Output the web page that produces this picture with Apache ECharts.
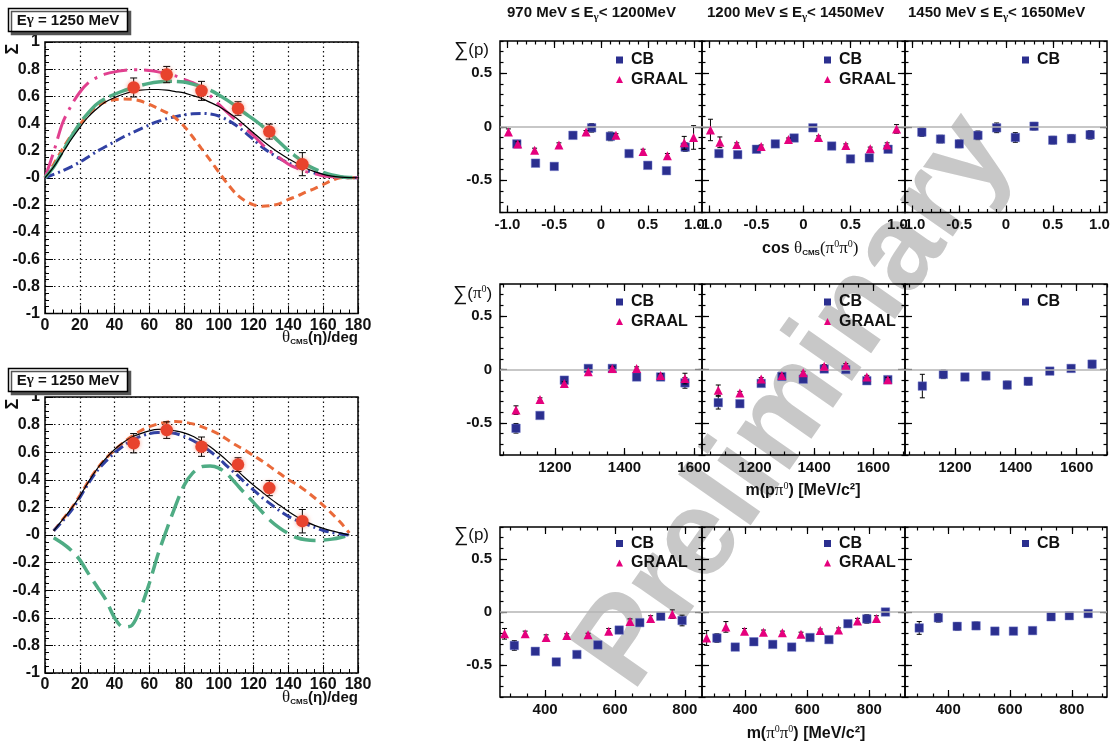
<!DOCTYPE html>
<html>
<head>
<meta charset="utf-8">
<script src="https://cdn.jsdelivr.net/npm/echarts@6/dist/echarts.min.js"></script>
<style>
  html, body { margin: 0; padding: 0; background: #fff; }
  #chart { width: 1112px; height: 748px; }
</style>
</head>
<body>
<div id="chart"></div>
<script>
// ---------- η photoproduction, Eγ = 1250 MeV: measured Σ(θ) ----------
const etaTheta    = [51, 70, 90, 111, 129, 148];
const etaSigma    = [0.665, 0.76, 0.64, 0.51, 0.34, 0.10];
const etaSigmaErr = [0.07, 0.06, 0.07, 0.05, 0.055, 0.085];

// model curves, sampled in θ (deg)
const thetaFull  = [0,5,10,15,20,25,30,35,40,45,50,55,60,65,70,75,80,85,90,95,100,105,110,115,120,125,130,135,140,145,150,155,160,165,170,175,180];
const thetaInner = [5,10,15,20,25,30,35,40,45,50,55,60,65,70,75,80,85,90,95,100,105,110,115,120,125,130,135,140,145,150,155,160,165,170,175];

const upperSolid    = [0,0.08,0.18,0.28,0.37,0.45,0.51,0.56,0.59,0.615,0.635,0.645,0.65,0.65,0.645,0.635,0.625,0.605,0.585,0.555,0.525,0.485,0.44,0.385,0.33,0.275,0.225,0.18,0.14,0.105,0.07,0.045,0.025,0.012,0.005,0.001,0];
const upperLongDash = [0,0.08,0.19,0.30,0.40,0.48,0.545,0.585,0.615,0.64,0.66,0.68,0.695,0.705,0.71,0.71,0.705,0.69,0.67,0.645,0.61,0.57,0.525,0.475,0.43,0.38,0.32,0.26,0.20,0.15,0.10,0.065,0.04,0.02,0.008,0.002,0];
const upperShortDash= [0,0.10,0.21,0.31,0.39,0.47,0.53,0.56,0.575,0.58,0.578,0.565,0.54,0.51,0.48,0.44,0.38,0.30,0.215,0.13,0.04,-0.045,-0.12,-0.17,-0.20,-0.21,-0.205,-0.19,-0.16,-0.135,-0.105,-0.08,-0.05,-0.02,0.0,0,0];
const upperDashDot  = [0,0.025,0.05,0.08,0.115,0.155,0.195,0.23,0.265,0.30,0.33,0.36,0.39,0.415,0.435,0.45,0.463,0.472,0.474,0.47,0.455,0.425,0.385,0.335,0.28,0.225,0.18,0.14,0.11,0.08,0.055,0.035,0.02,0.01,0.004,0.001,0];
const upperDashDots = [0,0.19,0.40,0.53,0.63,0.70,0.74,0.765,0.78,0.79,0.795,0.795,0.79,0.78,0.765,0.75,0.725,0.70,0.665,0.605,0.54,0.48,0.42,0.365,0.31,0.245,0.19,0.145,0.10,0.07,0.045,0.03,0.015,0.008,0.003,0,0];

const lowerSolid    = [0.03,0.11,0.19,0.28,0.385,0.48,0.555,0.62,0.67,0.71,0.735,0.755,0.765,0.765,0.755,0.74,0.715,0.68,0.64,0.59,0.535,0.475,0.415,0.36,0.31,0.26,0.215,0.17,0.13,0.097,0.07,0.048,0.03,0.015,0.0];
const lowerDashDot  = [0.03,0.10,0.175,0.27,0.375,0.465,0.535,0.595,0.645,0.685,0.715,0.735,0.742,0.742,0.735,0.715,0.685,0.65,0.605,0.555,0.495,0.44,0.38,0.325,0.27,0.222,0.175,0.135,0.105,0.08,0.055,0.033,0.018,0.008,0.0];
const lowerShortDash= [0.03,0.11,0.19,0.285,0.39,0.48,0.555,0.615,0.67,0.715,0.755,0.785,0.805,0.818,0.823,0.818,0.805,0.785,0.76,0.73,0.69,0.65,0.615,0.575,0.535,0.49,0.445,0.40,0.365,0.32,0.27,0.215,0.155,0.09,0.015];
const lowerLongDash = [-0.02,-0.06,-0.11,-0.18,-0.28,-0.375,-0.47,-0.6,-0.667,-0.655,-0.53,-0.35,-0.14,0.04,0.21,0.36,0.45,0.495,0.50,0.485,0.44,0.37,0.30,0.235,0.165,0.10,0.05,0.01,-0.02,-0.035,-0.04,-0.037,-0.03,-0.018,0.0];

// ---------- 2π0 photoproduction: beam asymmetry Σ ----------
// tick values
const cosMajor   = [-1, -0.5, 0, 0.5, 1];
const cosMinor   = [-1,-0.9,-0.8,-0.7,-0.6,-0.5,-0.4,-0.3,-0.2,-0.1,0,0.1,0.2,0.3,0.4,0.5,0.6,0.7,0.8,0.9,1];
const sigmaMajor = [-0.5, 0, 0.5];
const sigmaMinor = [-0.8,-0.7,-0.6,-0.5,-0.4,-0.3,-0.2,-0.1,0,0.1,0.2,0.3,0.4,0.5,0.6,0.7,0.8];
const mpMajor    = [1200, 1400, 1600];
const mpMinorLow = [1050,1100,1150,1200,1250,1300,1350,1400,1450,1500,1550,1600];
const mpMinorHigh= [1050,1100,1150,1200,1250,1300,1350,1400,1450,1500,1550,1600,1650,1700];
const mppMajor    = [400, 600, 800];
const mppMinorLow = [300,350,400,450,500,550,600,650,700,750,800];
const mppMinorHigh= [300,350,400,450,500,550,600,650,700,750,800,850,900];

// Σ(p) vs cos θ(π0π0)
const cosCB    = [-0.9,-0.7,-0.5,-0.3,-0.1,0.1,0.3,0.5,0.7,0.9];
const cosGraal = [-0.99,-0.89,-0.71,-0.45,-0.16,0.16,0.45,0.71,0.89,0.99];
const cosLowCB      = [-0.16,-0.34,-0.37,-0.08,-0.01,-0.09,-0.25,-0.36,-0.41,-0.19];
const cosLowCBErr   = [0.02,0.02,0.02,0.03,0.04,0.04,0.02,0.02,0.02,0.04];
const cosLowGraal   = [-0.05,-0.16,-0.22,-0.17,-0.05,-0.08,-0.23,-0.27,-0.15,-0.10];
const cosLowGraalErr= [0.03,0.02,0.02,0.02,0.015,0.015,0.02,0.02,0.06,0.11];
const cosMidCB      = [-0.25,-0.26,-0.21,-0.16,-0.105,-0.01,-0.18,-0.30,-0.29,-0.21];
const cosMidCBErr   = [0.03,0.025,0.02,0.025,0.03,0.03,0.02,0.02,0.02,0.03];
const cosMidGraal   = [-0.03,-0.145,-0.165,-0.185,-0.12,-0.10,-0.175,-0.205,-0.17,-0.02];
const cosMidGraalErr= [0.10,0.05,0.015,0.015,0.015,0.015,0.015,0.015,0.02,0.04];
const cosHighCB     = [-0.05,-0.115,-0.16,-0.08,-0.01,-0.10,0.005,-0.125,-0.11,-0.075];
const cosHighCBErr  = [0.04,0.035,0.035,0.04,0.045,0.045,0.035,0.035,0.035,0.04];

// Σ(π0) vs m(pπ0)
const mpLowX        = [1088,1157,1227,1296,1365,1435,1504,1574];
const mpLowCB       = [-0.55,-0.43,-0.10,0.01,0.01,-0.07,-0.07,-0.125];
const mpLowCBErr    = [0.045,0.02,0.02,0.02,0.02,0.02,0.02,0.05];
const mpLowGraal    = [-0.38,-0.28,-0.13,-0.02,0.01,0.01,-0.055,-0.085];
const mpLowGraalErr = [0.04,0.015,0.015,0.015,0.015,0.015,0.015,0.05];
const mpMidX        = [1076,1149,1221,1291,1363,1434,1507,1578,1649];
const mpMidCB       = [-0.31,-0.32,-0.13,-0.065,-0.09,0.005,0.0,-0.105,-0.095];
const mpMidCBErr    = [0.06,0.025,0.02,0.02,0.02,0.02,0.02,0.02,0.025];
const mpMidGraal    = [-0.195,-0.22,-0.09,-0.055,-0.03,0.03,0.04,-0.07,-0.095];
const mpMidGraalErr = [0.05,0.015,0.015,0.015,0.015,0.015,0.015,0.015,0.02];
const mpHighX       = [1093,1162,1233,1302,1372,1441,1512,1582,1651];
const mpHighCB      = [-0.155,-0.045,-0.07,-0.06,-0.145,-0.11,-0.015,0.01,0.05];
const mpHighCBErr   = [0.11,0.04,0.03,0.035,0.035,0.035,0.03,0.03,0.035];

// Σ(p) vs m(π0π0)
const mppLowX        = [312,372,432,491,551,612,671,731,792];
const mppLowCB       = [-0.315,-0.37,-0.47,-0.40,-0.31,-0.17,-0.10,-0.04,-0.08];
const mppLowCBErr    = [0.045,0.025,0.02,0.02,0.02,0.02,0.02,0.025,0.05];
const mppLowGX       = [284,343,403,462,523,582,643,702,764];
const mppLowGraal    = [-0.205,-0.205,-0.24,-0.22,-0.215,-0.18,-0.09,-0.06,-0.02];
const mppLowGraalErr = [0.05,0.025,0.025,0.015,0.015,0.025,0.025,0.025,0.04];
const mppMidX        = [309,368,428,489,550,609,670,731,792,852];
const mppMidCB       = [-0.245,-0.33,-0.28,-0.305,-0.33,-0.24,-0.26,-0.11,-0.065,0.0];
const mppMidCBErr    = [0.04,0.025,0.02,0.02,0.02,0.02,0.02,0.025,0.04,0.02];
const mppMidGX       = [276,338,398,459,520,580,642,701,762,823];
const mppMidGraal    = [-0.245,-0.14,-0.18,-0.19,-0.195,-0.21,-0.175,-0.17,-0.085,-0.06];
const mppMidGraalErr = [0.07,0.05,0.025,0.02,0.015,0.02,0.015,0.02,0.025,0.025];
const mppHighX       = [306,368,429,490,551,611,673,733,792,853];
const mppHighCB      = [-0.15,-0.055,-0.135,-0.13,-0.18,-0.18,-0.175,-0.045,-0.035,-0.015];
const mppHighCBErr   = [0.06,0.04,0.035,0.035,0.03,0.03,0.03,0.03,0.03,0.03];

// ---------- styling / layout ----------
const SANS  = '"Liberation Sans", Arial, Helvetica, sans-serif';
const SERIF = '"Liberation Serif", "DejaVu Serif", serif';
const INK = '#111';
const CB_COLOR = '#2b2f8f';
const GRAAL_COLOR = '#e5007d';

const leftFrames = [
  { left: 45, top: 42, width: 313, height: 271.5 },
  { left: 45, top: 397, width: 313, height: 276 }
];
const colLeft  = [500, 702, 905];
const colWidth = [202, 203, 202];
const rowTop   = [41, 284, 527];
const rowHeight= [171.5, 171, 170];
const legendX  = [616, 824, 1022];
const legendY  = [52, 294, 535.5];

const rightPanels = [
  { r:0, c:0, range:[-1.08,1.08], major:cosMajor, minor:cosMinor,
    cb:[cosCB, cosLowCB, cosLowCBErr], gr:[cosGraal, cosLowGraal, cosLowGraalErr] },
  { r:0, c:1, range:[-1.08,1.08], major:cosMajor, minor:cosMinor,
    cb:[cosCB, cosMidCB, cosMidCBErr], gr:[cosGraal, cosMidGraal, cosMidGraalErr] },
  { r:0, c:2, range:[-1.08,1.08], major:cosMajor, minor:cosMinor,
    cb:[cosCB, cosHighCB, cosHighCBErr], gr:null },
  { r:1, c:0, range:[1042,1623], major:mpMajor, minor:mpMinorLow,
    cb:[mpLowX, mpLowCB, mpLowCBErr], gr:[mpLowX, mpLowGraal, mpLowGraalErr] },
  { r:1, c:1, range:[1021,1707], major:mpMajor, minor:mpMinorHigh,
    cb:[mpMidX, mpMidCB, mpMidCBErr], gr:[mpMidX, mpMidGraal, mpMidGraalErr] },
  { r:1, c:2, range:[1036,1700], major:mpMajor, minor:mpMinorHigh,
    cb:[mpHighX, mpHighCB, mpHighCBErr], gr:null },
  { r:2, c:0, range:[271,849], major:mppMajor, minor:mppMinorLow,
    cb:[mppLowX, mppLowCB, mppLowCBErr], gr:[mppLowGX, mppLowGraal, mppLowGraalErr] },
  { r:2, c:1, range:[261,915], major:mppMajor, minor:mppMinorHigh,
    cb:[mppMidX, mppMidCB, mppMidCBErr], gr:[mppMidGX, mppMidGraal, mppMidGraalErr] },
  { r:2, c:2, range:[260,914], major:mppMajor, minor:mppMinorHigh,
    cb:[mppHighX, mppHighCB, mppHighCBErr], gr:null }
];

const grids = [], xAxes = [], yAxes = [], series = [], legends = [];

function errorBarRenderer(capHalf) {
  return function (params, api) {
    const x = api.value(0), y = api.value(1), e = api.value(2);
    const hi = api.coord([x, y + e]);
    const lo = api.coord([x, y - e]);
    const st = { stroke: '#000', lineWidth: 1 };
    return {
      type: 'group',
      children: [
        { type: 'line', shape: { x1: hi[0], y1: hi[1], x2: lo[0], y2: lo[1] }, style: st },
        { type: 'line', shape: { x1: hi[0] - capHalf, y1: hi[1], x2: hi[0] + capHalf, y2: hi[1] }, style: st },
        { type: 'line', shape: { x1: lo[0] - capHalf, y1: lo[1], x2: lo[0] + capHalf, y2: lo[1] }, style: st }
      ]
    };
  };
}

function pairs(xs, ys) { return xs.map((x, i) => [x, ys[i]]); }
function triples(xs, ys, es) { return xs.map((x, i) => [x, ys[i], es[i]]); }

function frameGrid(box) {
  grids.push(Object.assign({
    show: true, borderColor: '#000', borderWidth: 1.5, backgroundColor: 'transparent',
    containLabel: false, outerBoundsMode: 'none'
  }, box));
  return grids.length - 1;
}

// ---------- left: η panels ----------
function leftLabel(v) {
  if (Math.abs(v) < 1e-9) return '-0';
  if (Math.abs(v - Math.round(v)) < 1e-9) return String(Math.round(v));
  return v.toFixed(1);
}

const upperCurves = [
  { ys: upperDashDot,   color: '#3141a3', width: 3,   type: [10, 4, 2, 4] },
  { ys: upperShortDash, color: '#ea6a3a', width: 3,   type: [8, 5] },
  { ys: upperDashDots,  color: '#e1408f', width: 3,   type: [24, 7, 3, 7] },
  { ys: upperLongDash,  color: '#4fac84', width: 3.5, type: [30, 5] },
  { ys: upperSolid,     color: '#000',    width: 1.2, type: 'solid' }
];
const lowerCurves = [
  { ys: lowerLongDash,  color: '#4fac84', width: 3.5, type: [22, 8] },
  { ys: lowerShortDash, color: '#ea6a3a', width: 3,   type: [8, 5] },
  { ys: lowerDashDot,   color: '#3141a3', width: 3,   type: [10, 4, 2, 4] },
  { ys: lowerSolid,     color: '#000',    width: 1.2, type: 'solid' }
];

[[upperCurves, thetaFull], [lowerCurves, thetaInner]].forEach(([curves, thetas], k) => {
  const gi = frameGrid(leftFrames[k]);
  const xi = xAxes.length, yi = yAxes.length;
  xAxes.push({
    type: 'value', gridIndex: gi, min: 0, max: 180, interval: 20, position: 'bottom',
    axisLine: { show: false, onZero: false },
    axisTick: { show: true, inside: true, length: 8, lineStyle: { color: '#000', width: 1 } },
    minorTick: { show: true, splitNumber: 4, length: 4, lineStyle: { color: '#000', width: 1 } },
    splitLine: { show: true, lineStyle: { color: '#111', width: 1.2, type: [1.5, 3] } },
    axisLabel: { margin: 4, fontFamily: SANS, fontWeight: 'bold', fontSize: 16, color: INK }
  });
  yAxes.push({
    type: 'value', gridIndex: gi, min: -1, max: 1, interval: 0.2, position: 'left',
    axisLine: { show: false, onZero: false },
    axisTick: { show: true, inside: true, length: 8, lineStyle: { color: '#000', width: 1 } },
    minorTick: { show: true, splitNumber: 4, length: 4, lineStyle: { color: '#000', width: 1 } },
    splitLine: { show: true, lineStyle: { color: '#111', width: 1.2, type: [1.5, 3] } },
    axisLabel: { margin: 5, fontFamily: SANS, fontWeight: 'bold', fontSize: 16, color: INK, formatter: leftLabel }
  });
  curves.forEach((cv, j) => {
    series.push({
      type: 'line', xAxisIndex: xi, yAxisIndex: yi, data: pairs(thetas, cv.ys),
      showSymbol: false, symbol: 'none', smooth: 0.3, silent: true, z: 2 + j * 0.1,
      lineStyle: { color: cv.color, width: cv.width, type: cv.type }
    });
  });
  series.push({
    type: 'custom', xAxisIndex: xi, yAxisIndex: yi, silent: true, z: 3,
    renderItem: errorBarRenderer(3.5), data: triples(etaTheta, etaSigma, etaSigmaErr), encode: { x: 0, y: 1 }
  });
  series.push({
    type: 'scatter', xAxisIndex: xi, yAxisIndex: yi, silent: true, z: 4,
    symbol: 'circle', symbolSize: 12.5, data: pairs(etaTheta, etaSigma),
    itemStyle: { color: '#e8432d', opacity: 1, shadowBlur: 4, shadowColor: 'rgba(240,100,70,0.6)' }
  });
});

// ---------- right: 2π0 panels ----------
function tickOnlyAxis(gi, range, position, values, len) {
  return {
    type: 'value', gridIndex: gi, min: range[0], max: range[1], position,
    axisLine: { show: false, onZero: false },
    axisTick: { show: true, inside: true, length: len, customValues: values, lineStyle: { color: '#000', width: 1.2 } },
    axisLabel: { show: false }, splitLine: { show: false }
  };
}
function fmtCos(v) { return Math.abs(v) < 1e-9 ? '0' : v.toFixed(1); }
function fmtPlain(v) { return Math.abs(v) < 1e-9 ? '0' : String(v); }

rightPanels.forEach(p => {
  const gi = frameGrid({ left: colLeft[p.c], top: rowTop[p.r], width: colWidth[p.c], height: rowHeight[p.r] });
  const xi = xAxes.length, yi = yAxes.length;
  const sigRange = [-0.8, 0.8];

  // bottom axis with labels, then mirrored/minor tick axes
  const xMain = tickOnlyAxis(gi, p.range, 'bottom', p.major, 7);
  xMain.axisLabel = {
    show: true, customValues: p.major, margin: 5, fontFamily: SANS, fontWeight: 'bold',
    fontSize: 15, color: INK, formatter: p.r === 0 ? fmtCos : fmtPlain
  };
  xAxes.push(xMain);
  xAxes.push(tickOnlyAxis(gi, p.range, 'bottom', p.minor, 3.5));
  xAxes.push(tickOnlyAxis(gi, p.range, 'top', p.major, 7));
  xAxes.push(tickOnlyAxis(gi, p.range, 'top', p.minor, 3.5));

  const yMain = tickOnlyAxis(gi, sigRange, 'left', sigmaMajor, 7);
  if (p.c === 0) {
    yMain.axisLabel = {
      show: true, customValues: sigmaMajor, margin: 8, fontFamily: SANS, fontWeight: 'bold',
      fontSize: 15, color: INK, formatter: fmtPlain
    };
  }
  yAxes.push(yMain);
  yAxes.push(tickOnlyAxis(gi, sigRange, 'left', sigmaMinor, 3.5));
  yAxes.push(tickOnlyAxis(gi, sigRange, 'right', sigmaMajor, 7));
  yAxes.push(tickOnlyAxis(gi, sigRange, 'right', sigmaMinor, 3.5));

  const [cbX, cbY, cbE] = p.cb;
  // Σ = 0 reference line
  series.push({
    type: 'line', name: 'zero', xAxisIndex: xi, yAxisIndex: yi, data: pairs(cbX, cbY),
    symbol: 'none', showSymbol: false, silent: true, z: 1, lineStyle: { opacity: 0 },
    markLine: {
      silent: true, symbol: ['none', 'none'], label: { show: false }, animation: false,
      lineStyle: { color: '#b4b4b4', width: 1.5, type: 'solid' }, data: [{ yAxis: 0 }]
    }
  });
  series.push({
    type: 'custom', name: 'CB error', xAxisIndex: xi, yAxisIndex: yi, silent: true, z: 2,
    renderItem: errorBarRenderer(2.5), data: triples(cbX, cbY, cbE), encode: { x: 0, y: 1 }
  });
  series.push({
    type: 'scatter', name: 'CB', xAxisIndex: xi, yAxisIndex: yi, silent: true, z: 3,
    symbol: 'rect', symbolSize: 8.5, data: pairs(cbX, cbY),
    itemStyle: { color: CB_COLOR, opacity: 1, borderColor: 'rgba(110,118,200,0.6)', borderWidth: 0.8 }
  });
  if (p.gr) {
    const [gX, gY, gE] = p.gr;
    series.push({
      type: 'custom', name: 'GRAAL error', xAxisIndex: xi, yAxisIndex: yi, silent: true, z: 4,
      renderItem: errorBarRenderer(2.5), data: triples(gX, gY, gE), encode: { x: 0, y: 1 }
    });
    series.push({
      type: 'scatter', name: 'GRAAL', xAxisIndex: xi, yAxisIndex: yi, silent: true, z: 5,
      symbol: 'triangle', symbolSize: 9, data: pairs(gX, gY),
      itemStyle: { color: GRAAL_COLOR, opacity: 1 }
    });
  }

  legends.push({
    left: legendX[p.c], top: legendY[p.r], orient: 'vertical', padding: 0,
    itemWidth: 7, itemHeight: 7, itemGap: 3.5, selectedMode: false,
    textStyle: { fontFamily: SANS, fontWeight: 'bold', fontSize: 16, color: INK, padding: [0, 0, 0, 3] },
    data: p.gr
      ? [{ name: 'CB', icon: 'rect', itemStyle: { color: CB_COLOR, opacity: 1, borderWidth: 0 } },
         { name: 'GRAAL', icon: 'triangle', itemStyle: { color: GRAAL_COLOR, opacity: 1, borderWidth: 0 } }]
      : [{ name: 'CB', icon: 'rect', itemStyle: { color: CB_COLOR, opacity: 1, borderWidth: 0 } }]
  });
});

// ---------- text annotations ----------
function richText(x, y, text, rich, align, extra) {
  return Object.assign({
    type: 'text', x, y, z: 10,
    style: {
      text, rich, align: align || 'left', textAlign: align || 'left',
      verticalAlign: 'middle', textVerticalAlign: 'middle'
    }
  }, extra || {});
}
function tok(size, weight, family, more) {
  return Object.assign({ fontSize: size, fontWeight: weight, fontFamily: family, fill: INK, color: INK }, more || {});
}
const RICH = {
  b:   tok(15, 'bold', SANS),
  bl:  tok(16, 'bold', SANS),
  t:   tok(17, 'normal', SANS),
  big: tok(20, 'normal', SANS),
  g:   tok(17, 'normal', SERIF),
  gb:  tok(15, 'bold', SERIF),
  sub: tok(8, 'bold', SANS, { padding: [8, 0, 0, 0] }),
  subg:tok(11, 'bold', SERIF, { padding: [9, 0, 0, 0] }),
  sup: tok(10, 'normal', SERIF, { padding: [0, 0, 9, 0] })
};

const graphics = [];

// title boxes of the η panels
[8.5, 368.5].forEach(top => {
  graphics.push({
    type: 'rect', z: 10, shape: { x: 8.5, y: top, width: 119, height: 23 },
    style: { fill: '#fff', stroke: '#000', lineWidth: 1.5, shadowColor: '#555', shadowOffsetX: 3, shadowOffsetY: 3, shadowBlur: 0 }
  });
  graphics.push(richText(68, top + 12, '{b|E}{gb|γ}{b| = 1250 MeV}', RICH, 'center', { z: 11 }));
});

// Σ axis titles of the η panels
[49, 404].forEach(y => {
  graphics.push({
    type: 'text', x: 13, y, rotation: Math.PI / 2, z: 10,
    style: { text: 'Σ', font: 'bold 18px ' + SANS, fill: INK, align: 'center', textAlign: 'center', verticalAlign: 'middle', textVerticalAlign: 'middle' }
  });
});
// θ axis titles of the η panels
[338, 698].forEach(y => {
  graphics.push(richText(358, y, '{g|θ}{sub|CMS}{b|(η)/deg}', RICH, 'right'));
});

// energy-bin headers
const headers = ['970 MeV ≤ E', '1200 MeV ≤ E', '1450 MeV ≤ E'];
const headerTails = ['< 1200MeV', '< 1450MeV', '< 1650MeV'];
const headerX = [507, 707, 908];
headers.forEach((h, i) => {
  graphics.push(richText(headerX[i], 13, '{b|' + h + '}{subg|γ}{b|' + headerTails[i] + '}', RICH, 'left'));
});

// Σ axis titles of the 2π0 rows
graphics.push(richText(454, 50,  '{big|∑}{t|(p)}', RICH, 'left'));
graphics.push(richText(453, 294, '{big|∑}{t|(}{g|π}{sup|0}{t|)}', RICH, 'left'));
graphics.push(richText(454, 535, '{big|∑}{t|(p)}', RICH, 'left'));

// x titles of the 2π0 rows
graphics.push(richText(762, 249, '{bl|cos }{g|θ}{sub|CMS}{g|(π}{sup|0}{g|π}{sup|0}{g|)}', RICH, 'left'));
graphics.push(richText(803, 491, '{bl|m(p}{g|π}{sup|0}{bl|) [MeV/c²]}', RICH, 'center'));
graphics.push(richText(806, 734, '{bl|m(}{g|π}{sup|0}{g|π}{sup|0}{bl|) [MeV/c²]}', RICH, 'center'));

// watermark
graphics.push({
  type: 'text', x: 796, y: 402, rotation: 55 * Math.PI / 180, z: -1,
  style: {
    text: 'Preliminary', font: 'bold 122px ' + SANS, fill: '#c8c8c8',
    align: 'center', textAlign: 'center', verticalAlign: 'middle', textVerticalAlign: 'middle'
  }
});

const chart = echarts.init(document.getElementById('chart'), null, { renderer: 'canvas' });
chart.setOption({
  animation: false,
  backgroundColor: '#fff',
  grid: grids,
  xAxis: xAxes,
  yAxis: yAxes,
  legend: legends,
  series,
  graphic: { elements: graphics }
});
</script>
</body>
</html>
